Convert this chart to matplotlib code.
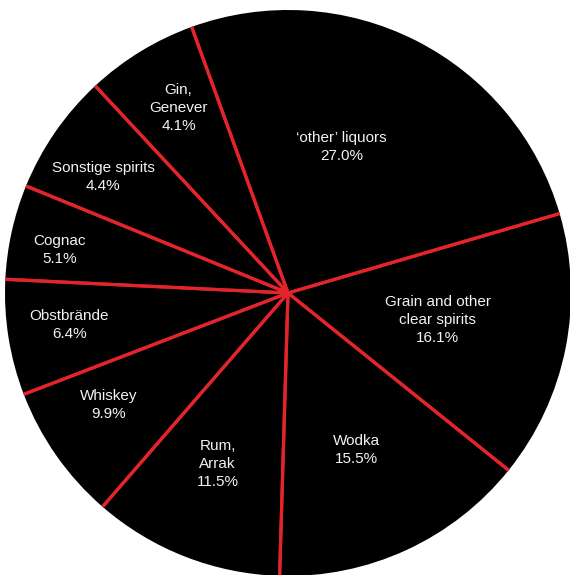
import numpy as np
import matplotlib
matplotlib.use("Agg")
import matplotlib.pyplot as plt

# categories in clockwise order starting at the top
categories = ["‘other’ liquors", "Grain and other\nclear spirits", "Wodka", "Rum,\nArrak",
              "Whiskey", "Obstbrände", "Cognac", "Sonstige spirits", "Gin,\nGenever"]
# slice sizes as drawn in the picture (share of the circle, %)
shares = [26.0, 15.3, 14.7, 10.9, 7.8, 6.6, 5.4, 6.9, 6.4]
# percentages printed in the labels
pct_labels = ["27.0%", "16.1%", "15.5%", "11.5%", "9.9%", "6.4%", "5.1%", "4.4%", "4.1%"]

# label placement (fraction of radius, angular offset in degrees)
label_r = [0.548, 0.537, 0.604, 0.654, 0.746, 0.781, 0.82, 0.77, 0.76]
label_dang = [6.8, 0.9, -1.2, -1.0, -3.0, -0.7, 1.9, 2.6, -0.8]

W, H = 570, 575
fig = plt.figure(figsize=(W / 100, H / 100), dpi=100)
ax = fig.add_axes([0, 0, 1, 1])
cx, cy, R = 288, H - 293, 283

wedges, _ = ax.pie(shares, startangle=109.9, counterclock=False, colors=["black"] * len(shares),
                   center=(cx, cy), radius=R, wedgeprops=dict(linewidth=0))
red = "#e3242b"
for w in wedges:
    for th in (w.theta1, w.theta2):
        t = np.deg2rad(th)
        ax.plot([cx, cx + R * np.cos(t)], [cy, cy + R * np.sin(t)], color=red, lw=2.3,
                solid_capstyle="butt", zorder=3)

for w, cat, pct, lr, da in zip(wedges, categories, pct_labels, label_r, label_dang):
    mid = np.deg2rad((w.theta1 + w.theta2) / 2 + da)
    ax.text(cx + lr * R * np.cos(mid), cy + lr * R * np.sin(mid), f"{cat}\n{pct}",
            ha="center", va="center", color="#f2f2f2", fontsize=11,
            family=["Liberation Sans", "DejaVu Sans"], linespacing=1.35, zorder=4)

ax.set_xlim(0, W)
ax.set_ylim(0, H)
ax.set_aspect("equal")
ax.axis("off")
fig.savefig("out.png", dpi=100)
